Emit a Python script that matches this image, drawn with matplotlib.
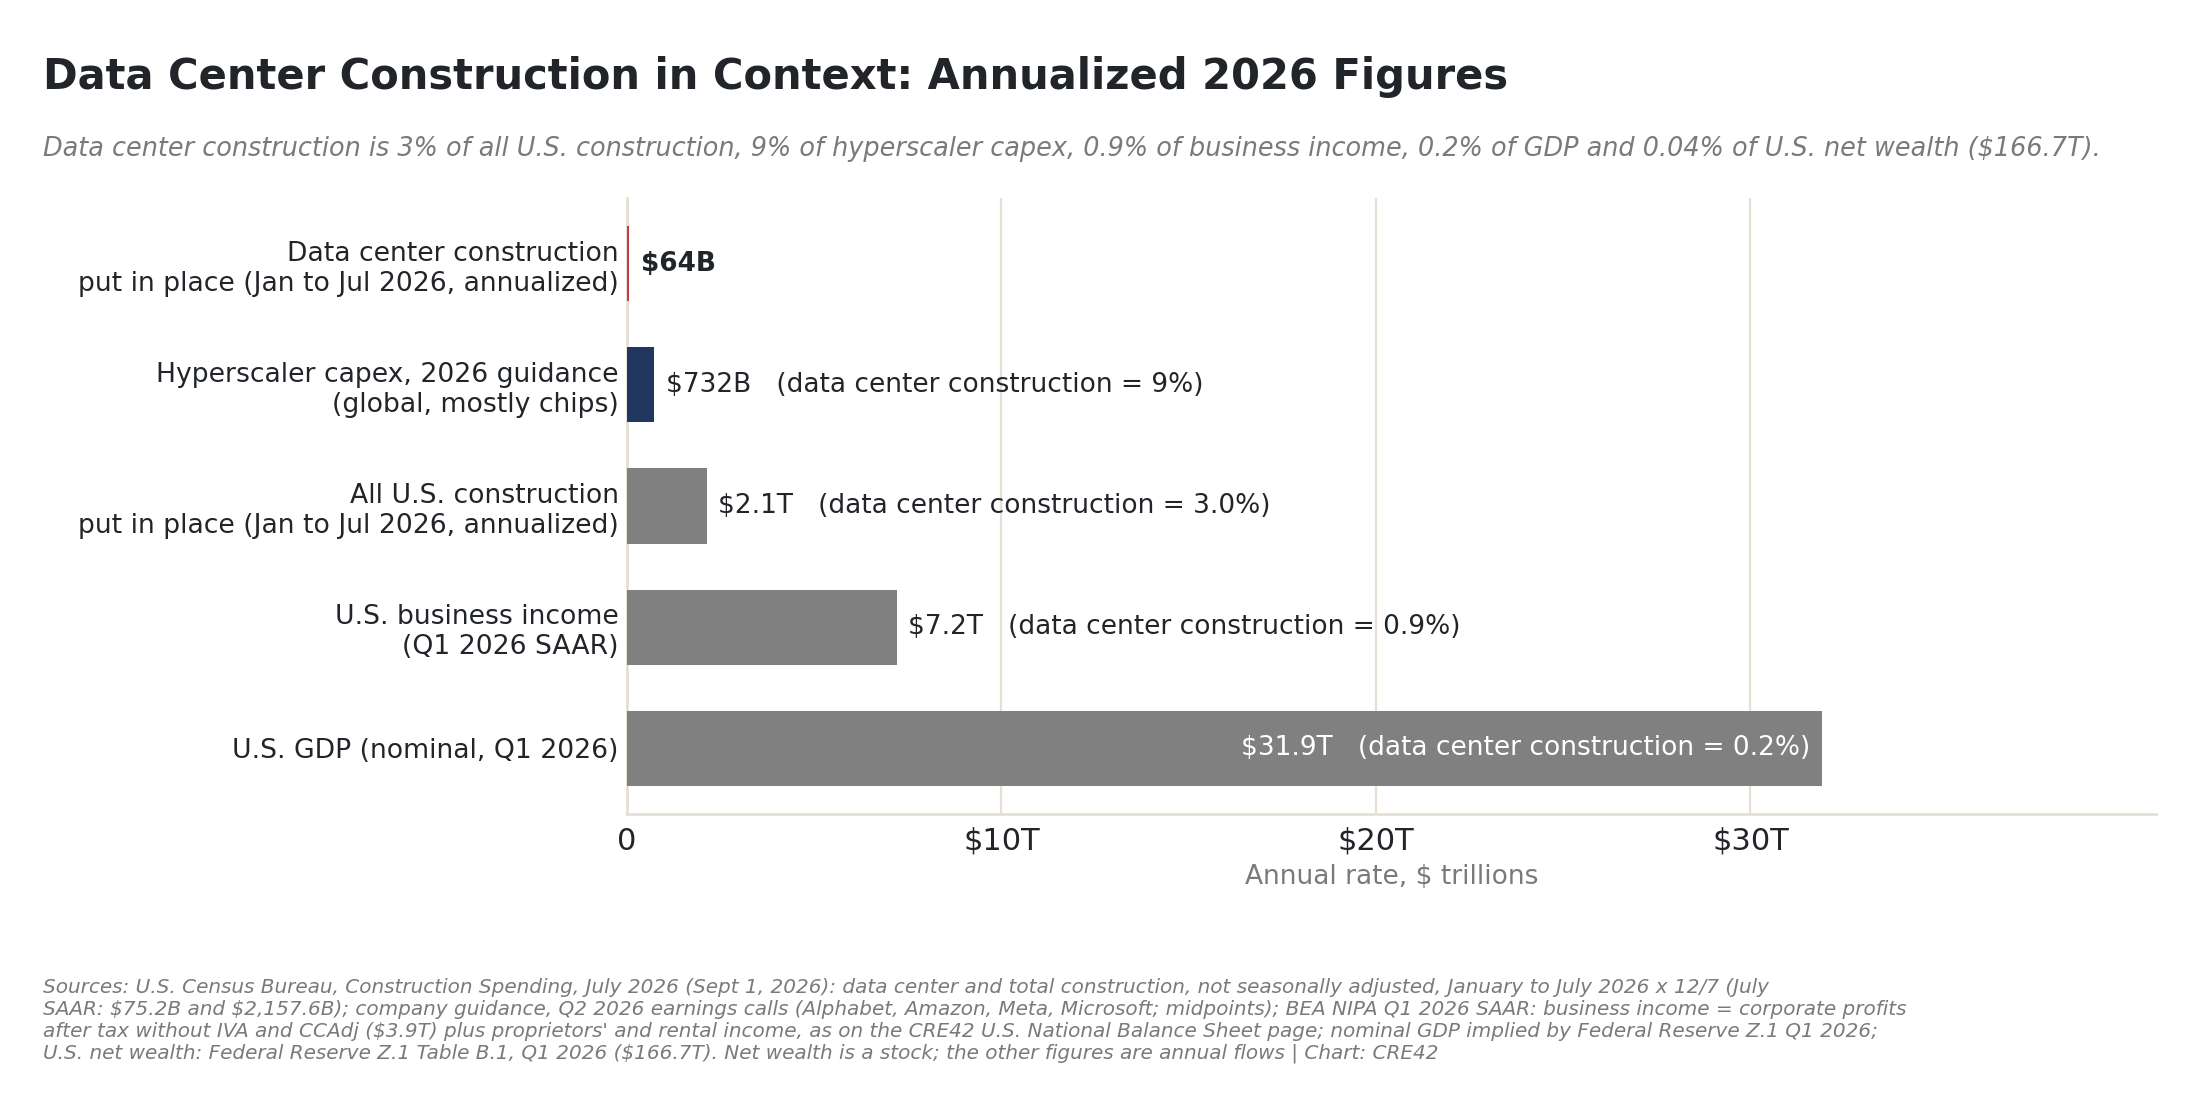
import matplotlib
matplotlib.use('Agg')
import matplotlib.pyplot as plt

# данные для графика ($ трлн, годовой темп)
categories = [
    'Data center construction\nput in place (Jan to Jul 2026, annualized)',
    'Hyperscaler capex, 2026 guidance\n(global, mostly chips)',
    'All U.S. construction\nput in place (Jan to Jul 2026, annualized)',
    'U.S. business income\n(Q1 2026 SAAR)',
    'U.S. GDP (nominal, Q1 2026)',
]
values = [0.064, 0.732, 2.13, 7.2, 31.9]
value_labels = ['$64B', '$732B', '$2.1T', '$7.2T', '$31.9T']
share_labels = ['', '9%', '3.0%', '0.9%', '0.2%']
bar_colors = ['#c8394a', '#22375f', '#808080', '#808080', '#808080']
x_ticks = [0, 10, 20, 30]
x_tick_labels = ['0', '$10T', '$20T', '$30T']

dark = '#212529'
muted = '#7a7a7a'
beige = '#e6dfd3'

title = 'Data Center Construction in Context: Annualized 2026 Figures'
subtitle = ('Data center construction is 3% of all U.S. construction, 9% of hyperscaler capex, '
            '0.9% of business income, 0.2% of GDP and 0.04% of U.S. net wealth ($166.7T).')
footer = ("Sources: U.S. Census Bureau, Construction Spending, July 2026 (Sept 1, 2026): data center and total construction, not seasonally adjusted, January to July 2026 x 12/7 (July\n"
          "SAAR: $75.2B and $2,157.6B); company guidance, Q2 2026 earnings calls (Alphabet, Amazon, Meta, Microsoft; midpoints); BEA NIPA Q1 2026 SAAR: business income = corporate profits\n"
          "after tax without IVA and CCAdj ($3.9T) plus proprietors' and rental income, as on the CRE42 U.S. National Balance Sheet page; nominal GDP implied by Federal Reserve Z.1 Q1 2026;\n"
          "U.S. net wealth: Federal Reserve Z.1 Table B.1, Q1 2026 ($166.7T). Net wealth is a stock; the other figures are annual flows | Chart: CRE42")


def esc(s):
    # знак доллара иначе включает mathtext
    return s.replace('$', r'\$')


fig = plt.figure(figsize=(11, 5.5), dpi=200)
ax = fig.add_axes([0.285, 0.26, 0.695, 0.56])

y = list(range(len(categories)))
ax.barh(y, values, height=0.62, color=bar_colors, zorder=3)
ax.invert_yaxis()
ax.set_xlim(0, max(values) * 1.28)

# подписи у столбцов
for i, v in enumerate(values):
    if i == 0:
        ax.text(v + 0.3, i, esc(value_labels[i]), va='center', ha='left',
                fontsize=9.5, fontweight='bold', color=dark, zorder=4)
    elif i == len(values) - 1:
        ax.text(v - 0.3, i, esc(f'{value_labels[i]}   (data center construction = {share_labels[i]})'),
                va='center', ha='right', fontsize=9.5, color='white', zorder=4)
    else:
        ax.text(v + 0.3, i, esc(f'{value_labels[i]}   (data center construction = {share_labels[i]})'),
                va='center', ha='left', fontsize=9.5, color=dark, zorder=4)

ax.set_yticks(y)
ax.set_yticklabels(categories, fontsize=9.6, color=dark)
ax.set_xticks(x_ticks)
ax.set_xticklabels([esc(t) for t in x_tick_labels], fontsize=11, color=dark)
ax.tick_params(axis='y', length=0, pad=3)
ax.tick_params(axis='x', length=0, pad=4.5)
ax.set_xlabel(esc('Annual rate, $ trillions'), fontsize=9.5, color=muted, labelpad=3)

ax.grid(axis='x', color=beige, linewidth=0.8, zorder=0)
ax.grid(axis='y', visible=False)
for s in ['top', 'right']:
    ax.spines[s].set_visible(False)
for s in ['left', 'bottom']:
    ax.spines[s].set_color(beige)
    ax.spines[s].set_linewidth(1.0)

fig.text(0.0195, 0.930, title, fontsize=15, fontweight='bold', color=dark, va='center', ha='left')
fig.text(0.0195, 0.865, esc(subtitle), fontsize=9.2, style='italic', color=muted, va='center', ha='left')
fig.text(0.0195, 0.111, esc(footer), fontsize=7.2, style='italic', color=muted, va='top', ha='left',
         linespacing=1.2)

fig.savefig('out.png', dpi=200, facecolor='white')
